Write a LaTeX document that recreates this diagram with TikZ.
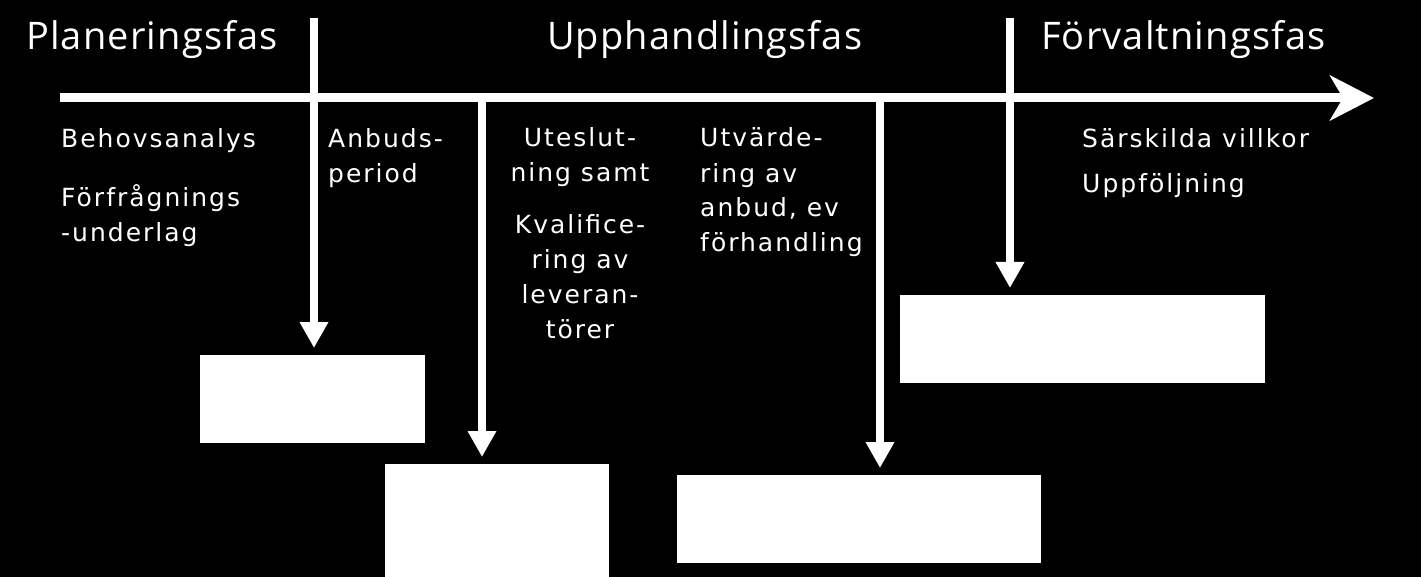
\documentclass[tikz,border=0pt]{standalone}
\usepackage{fontspec}
\setmainfont{DejaVu Sans}[LetterSpace=8]
\newfontfamily\rubrikfont{Open Sans}[LetterSpace=3]
\usetikzlibrary{arrows.meta}

\begin{document}
\begin{tikzpicture}[x=1pt,y=-1pt,
    rubrik/.style={text=white,font=\rubrikfont\fontsize{38}{44}\selectfont,inner sep=0pt,anchor=base west},
    brod/.style={text=white,font=\fontsize{25}{35}\selectfont,inner sep=0pt,anchor=base west,align=left},
    ruta/.style={fill=white,inner sep=0pt,anchor=north west},
    pil/.style={white,line width=8pt,-{Triangle[length=26pt,width=27pt]},shorten >=7pt}]
	\fill[black] (0,0) rectangle (1421,577);
	\useasboundingbox (0,0) rectangle (1421,577);
	% faser
	\node[rubrik] (plan) at (26,50) {Planeringsfas};
	\node[rubrik] (upph) at (547,50) {Upphandlingsfas};
	\node[rubrik] (forv) at (1041,50) {Förvaltningsfas};
	% tidslinje
	\coordinate (start) at (60,98);
	\coordinate (slut) at (1374,98);
	\draw[white,line width=9pt,-{Stealth[length=44pt,width=45pt,inset=13pt]}] (start) -- (slut);
	% texter (y = sista radens baslinje)
	\node[brod] (behov) at (61,148) {Behovsanalys};
	\node[brod] (underlag) at (61,242) {Förfrågnings\\-underlag};
	\node[brod] (anbudsper) at (328,183) {Anbuds-\\period};
	\node[brod,align=center,anchor=base] (utesl) at (580,182) {Uteslut-\\ning samt};
	\node[brod,align=center,anchor=base] (kval) at (580,338) {Kvalifice-\\ring av\\leveran-\\törer};
	\node[brod] (utv) at (700,252) {Utvärde-\\ring av\\anbud, ev\\förhandling};
	\node[brod] (villkor) at (1082,148) {Särskilda villkor};
	\node[brod] (uppf) at (1082,193) {Uppföljning};
	% rutor
	\node[ruta,minimum width=225pt,minimum height=88pt] (ruta1) at (200,355) {};
	\node[ruta,minimum width=224pt,minimum height=113pt] (ruta2) at (385,464) {};
	\node[ruta,minimum width=364pt,minimum height=88pt] (ruta3) at (677,475) {};
	\node[ruta,minimum width=365pt,minimum height=88pt] (ruta4) at (900,295) {};
	% pilar
	\coordinate (p1) at (314,18);
	\coordinate (p2) at (482,98);
	\coordinate (p3) at (880,98);
	\coordinate (p4) at (1010,18);
	\draw[pil] (p1) -- (p1 |- ruta1.north);
	\draw[pil] (p2) -- (p2 |- ruta2.north);
	\draw[pil] (p3) -- (p3 |- ruta3.north);
	\draw[pil] (p4) -- (p4 |- ruta4.north);
\end{tikzpicture}
\end{document}
